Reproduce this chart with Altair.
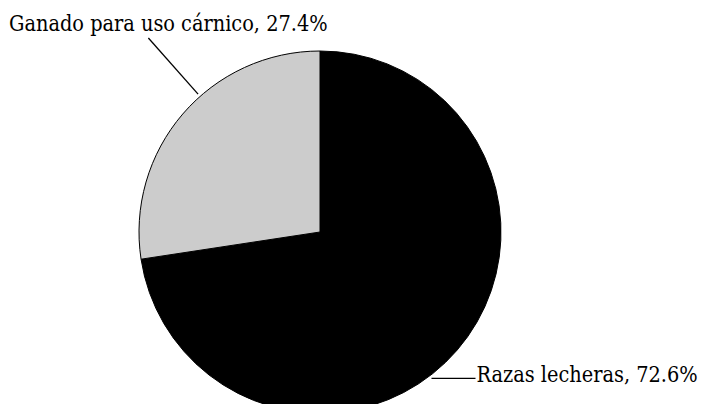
import math
import altair as alt
import pandas as pd

# Data
categories = ["Razas lecheras", "Ganado para uso cárnico"]
values = [72.6, 27.4]
colors = ["#000000", "#cccccc"]
labels = ["Razas lecheras, 72.6%", "Ganado para uso cárnico, 27.4%"]

# Layout (chart pixel space)
W, H = 690, 396
CX, CY, R = 312, 224, 181
FONT = "DejaVu Serif Condensed"

pie_df = pd.DataFrame({"cat": categories, "value": values, "order": [0, 1]})

leader_angle = [142.7, -41.5]
leader_mode = ["horizontal", "radial"]
leader_len = [44, 75]

rows_line = []
rows_text = []
for i, lab in enumerate(labels):
    a = math.radians(leader_angle[i])
    x0 = CX + (R + 3) * math.sin(a)
    y0 = CY - (R + 3) * math.cos(a)
    if leader_mode[i] == "horizontal":
        x1, y1 = x0 + leader_len[i], y0
        tx, ty = x1 + 1, y1 + 4
    else:
        x1 = x0 + leader_len[i] * math.sin(a)
        y1 = y0 - leader_len[i] * math.cos(a)
        tx, ty = 1, y1 - 7
    rows_line.append({"id": i, "x": x0, "y": y0, "x2": x1, "y2": y1})
    rows_text.append({"label": lab, "x": tx, "y": ty})

line_df = pd.DataFrame(rows_line)
text_df = pd.DataFrame(rows_text)

xs = alt.Scale(domain=[0, W], range=[0, W])
ys = alt.Scale(domain=[0, H], range=[0, H])

pie = alt.Chart(pie_df).mark_arc(radius=R, stroke="#000000", strokeWidth=1).encode(
    theta=alt.Theta("value:Q", stack=True),
    order=alt.Order("order:Q"),
    color=alt.Color("cat:N", scale=alt.Scale(domain=categories, range=colors), legend=None),
    x=alt.value(CX),
    y=alt.value(CY),
)

lines = alt.Chart(line_df).mark_rule(color="#000000", strokeWidth=1.3).encode(
    x=alt.X("x:Q", scale=xs, axis=None),
    y=alt.Y("y:Q", scale=ys, axis=None),
    x2="x2:Q",
    y2="y2:Q",
)

texts = alt.Chart(text_df).mark_text(
    align="left", baseline="alphabetic", color="#000000"
).encode(
    x=alt.X("x:Q", scale=xs, axis=None),
    y=alt.Y("y:Q", scale=ys, axis=None),
    text="label:N",
)

chart = alt.layer(pie, lines, texts).properties(
    width=W, height=H, autosize=alt.AutoSizeParams(type="none"), padding=0
).configure_view(stroke=None).configure_text(font=FONT, fontSize=21.5)

chart.save("out.html", embed_options={"renderer": "svg", "actions": False})
